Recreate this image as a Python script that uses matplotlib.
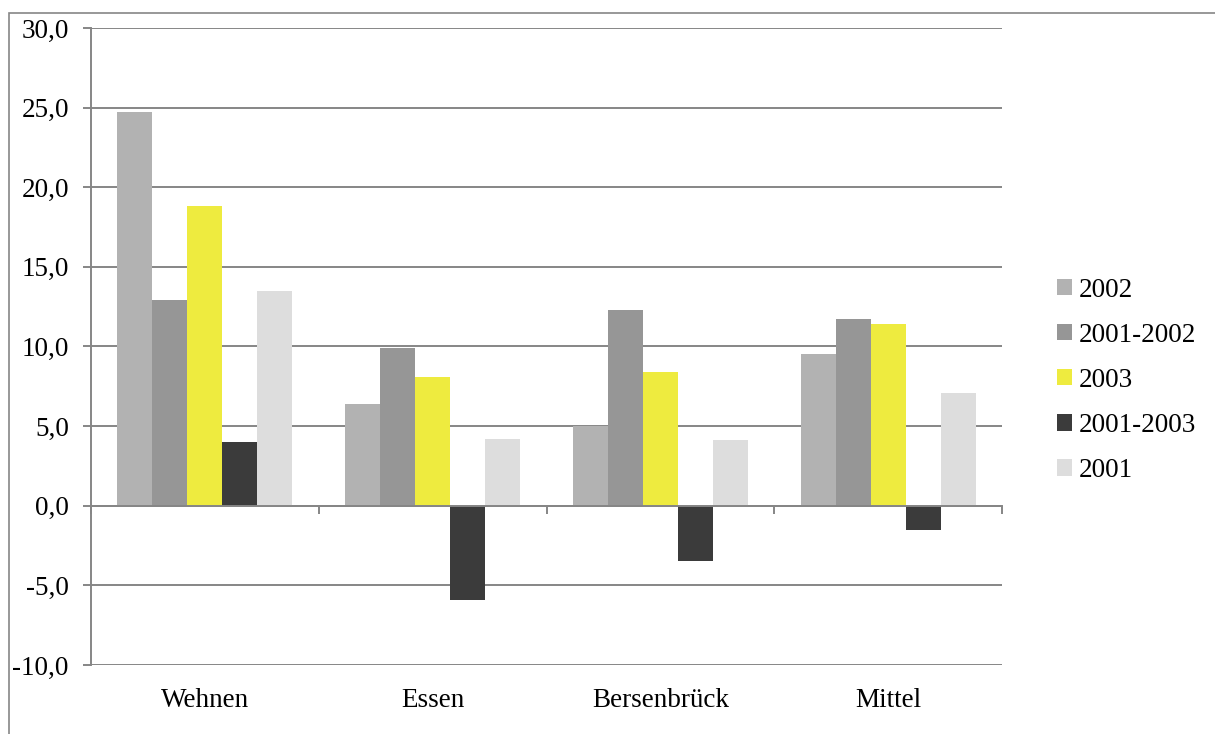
import numpy as np
import matplotlib.pyplot as plt
from matplotlib.patches import Rectangle

# values per site, one list per series
sites = ['Wehnen', 'Essen', 'Bersenbrück', 'Mittel']
series = ['2002', '2001-2002', '2003', '2001-2003', '2001']
v2002 = [24.7, 6.4, 5.0, 9.5]
v2001_2002 = [12.9, 9.9, 12.3, 11.7]
v2003 = [18.8, 8.1, 8.4, 11.4]
v2001_2003 = [4.0, -5.9, -3.5, -1.5]
v2001 = [13.5, 4.2, 4.1, 7.1]
colors = ['#b2b2b2', '#969696', '#eeeb3f', '#3b3b3b', '#dddddd']

plt.rcParams['font.family'] = ['Liberation Serif', 'DejaVu Serif']
plt.rcParams['font.size'] = 19.5

fig = plt.figure(figsize=(12.15, 7.34), dpi=100)
ax = fig.add_axes([0.0749, 0.094, 0.7498, 0.8679])

# outer chart frame (runs off the right and bottom edge)
fig.patches.append(Rectangle((8.5 / 1215, -0.1), 1.2, 1 - 13.5 / 734 + 0.1,
                             transform=fig.transFigure, fill=False,
                             edgecolor='#868686', lw=1.2))

data = [v2002, v2001_2002, v2003, v2001_2003, v2001]
x = np.arange(len(sites))
w = 0.1537
for i, (vals, c, lab) in enumerate(zip(data, colors, series)):
    ax.bar(x + (i - 2) * w, vals, width=w, color=c, label=lab, zorder=3)

ax.set_xlim(-0.5, len(sites) - 0.5)
ax.set_ylim(-10, 30)
ax.set_yticks(np.arange(-10, 31, 5))
ax.set_yticklabels([('%.1f' % t).replace('.', ',') for t in np.arange(-10, 31, 5)])
ax.yaxis.grid(True, color='#868686', lw=1.4, zorder=0)

for s in ['top', 'right']:
    ax.spines[s].set_visible(False)
ax.spines['left'].set_color('#868686')
ax.spines['left'].set_linewidth(1.4)
ax.spines['bottom'].set_position(('data', 0))
ax.spines['bottom'].set_color('#868686')
ax.spines['bottom'].set_linewidth(1.4)
ax.spines['bottom'].set_zorder(4)

ax.tick_params(axis='y', length=6, width=1.4, color='#868686', pad=10)
ax.set_xticks(np.arange(-0.5, len(sites), 1.0))
ax.set_xticklabels([])
ax.tick_params(axis='x', length=6, width=1.4, color='#868686')

for xi, name in zip(x, sites):
    ax.text(xi, -0.055, name, transform=ax.get_xaxis_transform(),
            ha='center', va='center')

leg = fig.legend(loc='upper left', bbox_to_anchor=(1046 / 1215, 1 - 267 / 734),
                 frameon=False, handlelength=0.55, handleheight=0.55,
                 handletextpad=0.25, labelspacing=0.74, borderaxespad=0)

fig.savefig('out.png', dpi=100, facecolor='white')
